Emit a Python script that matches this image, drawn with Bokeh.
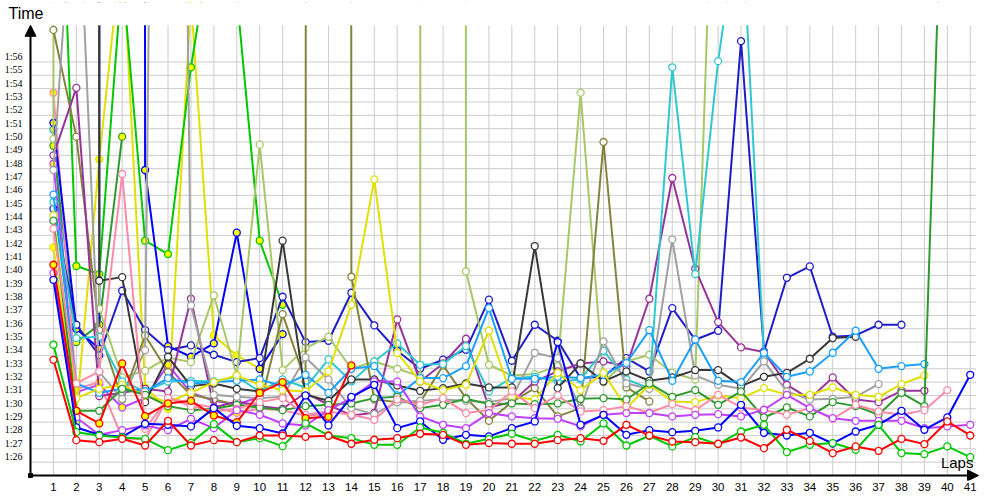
from bokeh.plotting import figure
from bokeh.models import (Range1d, FixedTicker, Arrow, NormalHead, Label, LabelSet,
                          ColumnDataSource, BoxAnnotation)
from bokeh.embed import file_html
from bokeh.resources import INLINE

N = None
laps = list(range(1, 42))
y_ticks = list(range(86, 117))
y_tick_labels = ["1:26", "1:27", "1:28", "1:29", "1:30", "1:31", "1:32", "1:33", "1:34", "1:35",
                 "1:36", "1:37", "1:38", "1:39", "1:40", "1:41", "1:42", "1:43", "1:44", "1:45",
                 "1:46", "1:47", "1:48", "1:49", "1:50", "1:51", "1:52", "1:53", "1:54", "1:55", "1:56"]

# lap times in seconds, one list per driver (None = no lap)
red_a = [93.67, 87.65, 87.5, 87.75, 87.25, 89.1, 87.25, 87.65, 87.5, 88.0, 88.0, 87.9, 87.98, 87.38, 87.68, 87.8, 88.13, 88.05, 87.3, 87.43,
         87.38, 87.38, 87.65, 87.8, 87.6, 88.8, 88.0, 87.55, 87.5, 87.38, 87.85, 87.05, 88.43, 87.6, 86.68, 87.18, 86.85, 87.75, 87.35, 89.05, 88.0]
red_b = [100.8, 89.85, 88.9, 93.4, 89.45, 90.4, 90.6, 89.5, 89.0, 91.2, 92.0, 89.3, 89.4, 93.25] + [N] * 27
green_a = [94.8, 88.25, 88.0, 87.85, 87.75, 86.9, 87.45, 88.85, 87.5, 87.8, 87.2, 88.9, 88.0, 87.8, 87.3, 87.3, 88.6, 88.2, 87.38, 87.75,
           88.13, 87.6, 88.05, 87.55, 88.9, 87.25, 87.98, 87.18, 87.88, 87.35, 88.3, 88.8, 86.75, 87.3, 87.43, 86.93, 88.8, 86.68, 86.6, 87.18, 86.38]
green_b = [146.0, 100.7, 100.1, 122.6, 102.6, 101.6, 115.6, 126.3, 121.0, 102.6, 97.8] + [N] * 30
blue_a = [99.67, 88.6, 88.05, 87.9, 88.88, 88.8, 88.68, 90.05, 88.73, 88.55, 88.15, 91.0, 88.75, 90.9, 91.8, 88.55, 89.05, 87.68, 88.05, 87.93,
          88.55, 89.05, 95.0, 88.8, 89.55, 88.05, 88.4, 88.25, 88.35, 88.6, 90.3, 88.2, 88.0, 88.2, 87.4, 88.3, 88.8, 89.85, 88.43, 89.35, 92.55]
blue_b = [111.44, 96.0, 94.5, 3000.0, 107.9, 94.7, 93.9, 94.9, 103.2, 93.0, 95.6] + [N] * 30
dblue = [105.0, 96.3, 94.0, 98.85, 95.9, 94.4, 94.75, 94.05, 93.5, 93.8, 98.4, 95.0, 95.1, 98.7, 96.25, 94.35, 93.0, 93.68, 94.43, 98.18,
         93.6, 96.3, 95.1, 92.3, 92.4, 93.8, 92.8, 97.55, 95.18, 95.85, 117.56, 94.3, 99.82, 100.67, 95.4, 95.5, 96.3, 96.3, N, N, N]
yellow_a = [104.5, 90.8, 91.5, 91.8, 91.0, 90.5, 91.2, 92.0, 92.5, 91.8, 91.4, 91.3, 92.8, 97.8, 107.2, 94.2, 92.05, 91.4, 91.8, 95.85,
            90.9, 90.7, 92.7, 91.4, 92.7, 90.05, 91.8, 90.55, 90.5, 91.0, 90.8, 91.55, 91.05, 91.05, 91.6, 91.05, 90.9, 91.85, 92.5, N, N]
yellow_b = [102.1, 89.7, 108.7, 125.0, 91.6, 90.0, 120.7, 95.5, 94.0, 93.0] + [N] * 31
pink_a = [103.5, 91.9, 92.8, 107.6, 88.5, 90.8, 90.2, 89.8, 90.0, 90.5, 90.8, 89.55, 89.8, 89.55, 89.18, 90.7, 90.3, 90.8, 89.68, 89.9,
          91.3, 90.05, 91.0, 89.8, 89.9, 90.2, 89.7, 90.35, 89.9, 91.05, 90.1, 89.9, 89.55, 90.05, 89.25, 90.3, 89.8, 89.55, 89.9, 91.4, N]
pink_b = [113.69, 91.5, 92.0, 87.8, 87.7, 90.85, 90.4, 90.1, 89.7, 90.0, 89.9, 89.5, 89.6] + [N] * 28
violet_a = [100.17, 89.35, 88.05, 88.4, 88.75, 88.4, 89.25, 88.55, 89.9, 89.55, 88.9, 88.75, 89.9, 90.8, 92.05, 92.05, 89.43, 88.8, 88.55, 89.68,
            89.43, 89.3, 89.25, 88.68, 89.55, 89.68, 89.68, 89.43, 89.55, 89.6, 89.43, 89.93, 91.05, 90.05, 89.3, 89.1, 89.1, 89.1, 88.55, 88.68, 88.8]
violet_b = [108.37, 91.25, 91.8, 90.1, 90.8, 93.3, 91.2, 90.6, 90.3, 90.9] + [N] * 31
purple = [109.0, 114.06, 90.95, 91.2, 91.5, 91.3, 98.25, 90.1, 90.55, 90.2, 90.0, 91.2, 90.3, 89.5, 89.7, 96.7, 92.05, 93.4, 95.25, 90.1,
          90.5, 92.05, 92.8, 93.4, 93.55, 93.2, 98.25, 107.3, 100.5, 96.5, 94.6, 94.25, 91.8, 90.75, 92.35, 90.7, 90.5, 91.35, 91.35, N, N]
gray = [107.9, 133.0, 92.75, 90.75, 94.4, 250.0, 97.75, 91.05, 90.9, 90.8, 90.9, 93.85, 92.2, 90.05, 89.6, 90.5, 90.6, 90.7, 90.6, 90.5,
        90.8, 94.2, 93.8, 90.0, 95.05, 91.9, 91.5, 102.7, 92.5, 91.8, 91.5, 93.55, 91.3, 90.7, 90.75, 90.9, 91.85, N, N, N, N]
dgray = [N, 3000.0, 99.6, 99.87, 90.5, 93.9, 91.7, 91.9, 91.5, 91.3, 102.6, 91.05, 90.6, 92.2, 92.2, 91.75, 91.35, 91.55, 91.9, 91.6,
         91.6, 102.2, 91.55, 93.4, 92.05, 92.8, 92.1, 92.35, 92.9, 92.9, 91.7, 92.4, 92.7, 93.75, 95.3, 95.4, N, N, N, N, N]
olive = [118.4, 110.4, 95.9, 90.7, 95.5, 92.75, 91.05, 90.7, 90.3, 90.1, 97.1, 92.05, 3000.0, 99.9, 90.7, 90.5, 90.5, 93.25, 90.8, 89.1,
         90.5, 91.55, 89.43, 90.05, 110.0, 91.6, 90.55] + [N] * 14
lolive = [110.24, 3000.0, 97.5, 92.35, 92.85, 93.85, 93.5, 98.5, 92.5, 109.8, 92.9, 94.55, 95.4, 93.0, 93.55, 93.0, 92.43, 3000.0, 100.3, 93.3,
          92.5, 92.6, 93.2, 113.7, 92.0, 93.55, 94.05, 92.7, 92.2, 143.0] + [N] * 11
cyan = [105.5, 95.3, 95.4, 92.05, 91.3, 92.05, 92.1, 92.05, 92.4, 91.3, 92.2, 91.6, 93.7, 92.05, 93.55, 94.9, 93.3, 93.35, 94.7, 91.3,
        92.3, 92.4, 92.05, 92.2, 94.35, 92.2, 91.55, 115.6, 100.1, 116.06, 128.0, 94.0] + [N] * 9
sky_a = [106.06, 91.9, 91.2, 91.5, 91.3, 92.3, 91.9, 92.0, 92.1, 92.2, 91.7, 92.55, 91.2, 93.0, 93.2, 91.0, 92.3, 92.3, 93.2, 97.55,
         92.25, 92.25, 92.4, 92.3, 92.55, 93.43, 95.9, 92.1, 95.2, 92.1, 92.0, 94.2, 92.4, 92.8, 94.2, 95.85, 93.0, 93.2, 93.35, N, N]
sky_b = [110.94, 89.0] + [N] * 39
dgreen_a = [104.1, 89.85, 89.85, 91.5, 91.05, 90.2, 89.9, 90.0, 90.3, 90.1, 89.9, 90.2, 90.3, 90.4, 90.8, 90.9, 90.05, 90.3, 90.75, 90.35,
            90.4, 90.35, 90.4, 90.75, 90.8, 90.7, 91.9, 90.9, 91.4, 90.3, 91.3, 89.35, 90.1, 89.43, 90.5, 90.2, 89.55, 91.2, 90.2, 142.0, N]
dgreen_b = [109.72, 95.0, 96.3, 110.4] + [N] * 37

WHITE, YEL = "#ffffff", "#ffff00"
series = [
    (red_a, "#ff0000", WHITE), (green_a, "#00c800", WHITE), (blue_a, "#0000ff", WHITE),
    (red_b, "#ff0000", YEL), (violet_a, "#c040ff", WHITE), (pink_a, "#ff8aa8", WHITE),
    (dgreen_a, "#2e9a2e", WHITE), (yellow_a, "#e0e000", WHITE), (sky_a, "#1ca0ff", WHITE),
    (dgray, "#383838", WHITE), (gray, "#a0a0a0", WHITE), (cyan, "#30c8d0", WHITE),
    (purple, "#993399", WHITE), (olive, "#84843e", WHITE), (lolive, "#a8c868", WHITE),
    (dblue, "#1e1ec8", WHITE), (blue_b, "#0000ff", YEL), (green_b, "#00c800", YEL),
    (yellow_b, "#e0e000", YEL), (pink_b, "#ff8aa8", YEL), (violet_b, "#c040ff", YEL),
    (dgreen_b, "#2e9a2e", YEL), (sky_b, "#1ca0ff", YEL),
]

X0, X1 = 0.0, 41.25      # lap axis extent (origin .. end of grid)
Y0, Y1 = 85.0, 118.75    # time axis extent (origin .. top of grid)

p = figure(width=1000, height=500, output_backend="svg", toolbar_location=None,
           x_range=Range1d(-1.309, 42.32), y_range=Range1d(84.625, 120.457),
           y_axis_location=None,
           min_border_left=0, min_border_right=0, min_border_top=2, min_border_bottom=20,
           background_fill_color="white", border_fill_color="white", outline_line_color=None)
p.xgrid.visible = False
p.ygrid.visible = False

# grid lines limited to the axes area
p.segment(x0=[X0] * len(y_ticks), x1=[X1] * len(y_ticks), y0=y_ticks, y1=y_ticks,
          line_color="#cccccc", line_width=1)
p.segment(x0=laps, x1=laps, y0=[Y0] * len(laps), y1=[Y1] * len(laps),
          line_color="#cccccc", line_width=1)

for vals, col, fill in reversed(series):
    ys = [float("nan") if v is None else v for v in vals]
    src = ColumnDataSource(dict(x=laps, y=ys))
    p.line("x", "y", source=src, line_color=col, line_width=2)
    p.scatter("x", "y", source=src, size=7, line_color=col, line_width=1.3, fill_color=fill)

# everything above the top of the time axis is blank
p.add_layout(BoxAnnotation(bottom=Y1, top=400, left=-50, right=100,
                           fill_color="white", fill_alpha=1.0, line_alpha=0))

# lap labels
p.xaxis.ticker = FixedTicker(ticks=laps)
p.xaxis.axis_line_color = None
p.xaxis.major_tick_line_color = None
p.xaxis.minor_tick_line_color = None
p.xaxis.major_tick_out = 0
p.xaxis.major_tick_in = 0
p.xaxis.major_label_text_font = "Liberation Sans"
p.xaxis.major_label_text_font_size = "11.5px"
p.xaxis.major_label_text_color = "#000000"
p.xaxis.major_label_standoff = 2

# time labels, sitting just above their grid line
ysrc = ColumnDataSource(dict(x=[X0] * len(y_ticks), y=y_ticks, t=y_tick_labels))
p.add_layout(LabelSet(x="x", y="y", text="t", source=ysrc, x_offset=-8, text_align="right",
                      text_baseline="bottom", text_font="Liberation Sans", text_font_size="10px",
                      text_color="#000000"))

# axis lines with arrow heads
p.add_layout(Arrow(end=NormalHead(size=11, fill_color="black", line_color="black", line_width=1),
                   x_start=X0, y_start=Y0, x_end=41.36, y_end=Y0, line_width=2, line_color="black"))
p.add_layout(Arrow(end=NormalHead(size=11, fill_color="black", line_color="black", line_width=1),
                   x_start=X0, y_start=Y0, x_end=X0, y_end=Y1, line_width=2, line_color="black"))
p.scatter(x=[X0], y=[Y0], marker="square", size=4, color="black")

p.add_layout(Label(x=-0.96, y=119.03, text="Time", text_font="Liberation Sans",
                   text_font_size="16px", text_color="#000000"))
p.add_layout(Label(x=41.14, y=85.37, text="Laps", text_font="Liberation Sans", text_align="right",
                   text_font_size="15px", text_color="#000000"))

open("out.html", "w").write(file_html(p, INLINE))
